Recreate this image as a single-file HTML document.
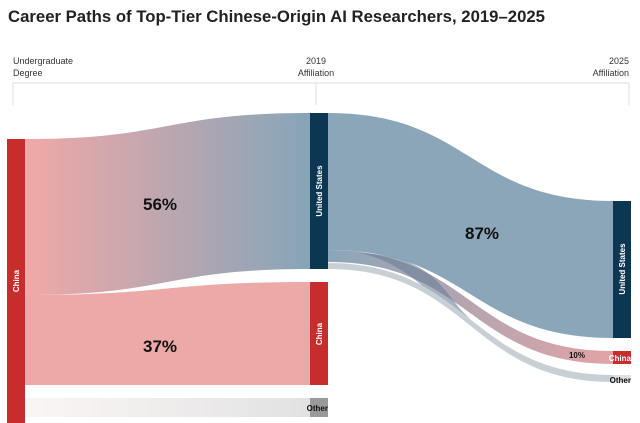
<!DOCTYPE html>
<html><head><style>
body{margin:0;background:#fff;}
svg{display:block;font-family:"Liberation Sans",sans-serif;}
</style></head><body>
<svg width="640" height="423" viewBox="0 0 640 423">
<defs>
<linearGradient id="g1" x1="25" x2="310" y1="0" y2="0" gradientUnits="userSpaceOnUse">
<stop offset="0" stop-color="#f0a9a7"/><stop offset="1" stop-color="#86a5b8"/></linearGradient>
<linearGradient id="g2" x1="25" x2="310" y1="0" y2="0" gradientUnits="userSpaceOnUse">
<stop offset="0" stop-color="#fbf6f6"/><stop offset="1" stop-color="#e2e2e2"/></linearGradient>
<linearGradient id="g3" x1="328" x2="613" y1="0" y2="0" gradientUnits="userSpaceOnUse">
<stop offset="0" stop-color="#8aa6b8"/><stop offset="1" stop-color="#e2a4a6"/></linearGradient>
</defs>
<text x="8" y="22" font-size="17" font-weight="bold" fill="#222" textLength="537" lengthAdjust="spacingAndGlyphs">Career Paths of Top-Tier Chinese-Origin AI Researchers, 2019–2025</text>
<g font-size="9" fill="#333">
<text x="13" y="64">Undergraduate</text><text x="13" y="76">Degree</text>
<text x="316" y="64" text-anchor="middle">2019</text><text x="316" y="76" text-anchor="middle">Affiliation</text>
<text x="629" y="64" text-anchor="end">2025</text><text x="629" y="76" text-anchor="end">Affiliation</text>
</g>
<g stroke="#ddd" stroke-width="1" fill="none">
<path d="M13 83H629M13 83V105M316 83V105M629 83V105"/>
</g>
<path d="M25 139 C170 139 165 113 310 113 L310 269 C165 269 170 295 25 295 Z" fill="url(#g1)"/>
<path d="M25 295 C170 295 165 282 310 282 L310 385 L25 385 Z" fill="#eda8a8"/>
<path d="M25 398 L310 398 L310 417 L25 417 Z" fill="url(#g2)"/>
<path d="M328 113 C470 113 470 201 613 201 L613 338 C470 338 470 250 328 250 Z" fill="#8aa6b8"/>
<path d="M328 250 C470 250 470 351 613 351 L613 364 C470 364 470 262 328 262 Z" fill="url(#g3)"/>
<path d="M360 253 C440 256 445 300 470 318 L440 300 C420 285 400 262 360 253 Z" fill="#6a7f98" opacity="0.6"/>
<path d="M328 263 C470 263 470 375 613 375 L613 382 C470 382 470 269 328 269 Z" fill="#c8d0d6"/>
<rect x="7" y="139" width="18" height="284" fill="#c62d2c"/>
<rect x="310" y="113" width="18" height="156" fill="#0b3752"/>
<rect x="310" y="282" width="18" height="103" fill="#c62d2c"/>
<rect x="310" y="398" width="18" height="19" fill="#9a9a9a"/>
<rect x="613" y="201" width="18" height="137" fill="#0b3752"/>
<rect x="613" y="351" width="18" height="13" fill="#c62d2c"/>
<rect x="613" y="375" width="18" height="7" fill="#e0e0e0"/>
<g font-size="8" font-weight="bold" fill="#fff">
<text transform="translate(19,281) rotate(-90)" text-anchor="middle">China</text>
<text transform="translate(322,191) rotate(-90)" text-anchor="middle">United States</text>
<text transform="translate(322,334) rotate(-90)" text-anchor="middle">China</text>
<text transform="translate(625,269) rotate(-90)" text-anchor="middle">United States</text>
<text x="631" y="361" text-anchor="end">China</text>
</g>
<g font-size="8" font-weight="bold" fill="#111">
<text x="328" y="411" text-anchor="end">Other</text>
<text x="631" y="383" text-anchor="end">Other</text>
<text x="577" y="358" text-anchor="middle">10%</text>
</g>
<g font-size="17" font-weight="bold" fill="#111">
<text x="160" y="210" text-anchor="middle">56%</text>
<text x="160" y="352" text-anchor="middle">37%</text>
<text x="482" y="239" text-anchor="middle">87%</text>
</g>
</svg>
</body></html>
